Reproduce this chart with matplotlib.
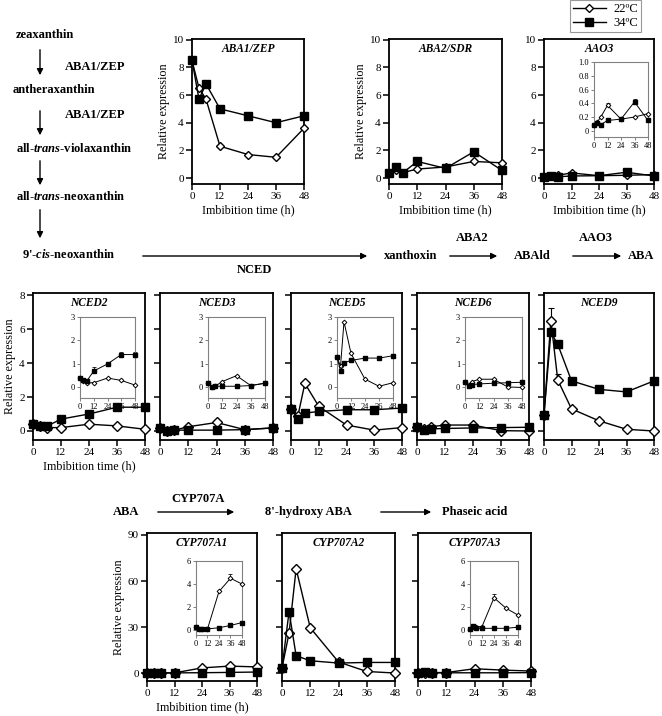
import matplotlib
matplotlib.use("Agg")
import matplotlib.pyplot as plt
from matplotlib.lines import Line2D
from matplotlib.patches import FancyArrowPatch

plt.rcParams['font.family'] = ['Liberation Serif', 'DejaVu Serif']
plt.rcParams['mathtext.fontset'] = 'custom'
plt.rcParams['mathtext.rm'] = 'Liberation Serif:bold'
plt.rcParams['mathtext.it'] = 'Liberation Serif:italic:bold'

# imbibition time points (h)
t = [0, 3, 6, 12, 24, 36, 48]

aba1_22 = [8.5, 6.5, 5.7, 2.3, 1.7, 1.5, 3.6]
aba1_34 = [8.5, 5.7, 6.8, 5.0, 4.5, 4.0, 4.5]
aba2_22 = [0.35, 0.55, 0.4, 0.65, 0.8, 1.2, 1.1]
aba2_34 = [0.35, 0.8, 0.4, 1.2, 0.7, 1.9, 0.55]
aao3_22 = [0.08, 0.13, 0.2, 0.37, 0.17, 0.2, 0.25]
aao3_34 = [0.08, 0.12, 0.09, 0.15, 0.17, 0.42, 0.15]

nced2_22 = [0.4, 0.28, 0.2, 0.2, 0.4, 0.3, 0.1]
nced2_34 = [0.4, 0.3, 0.28, 0.7, 1.0, 1.4, 1.4]
nced3_22 = [0.2, 0.02, 0.05, 0.25, 0.5, 0.08, 0.18]
nced3_34 = [0.2, 0.02, 0.05, 0.05, 0.05, 0.08, 0.18]
nced5_22 = [1.3, 0.9, 2.8, 1.45, 0.35, 0.05, 0.2]
nced5_34 = [1.3, 0.7, 1.05, 1.15, 1.25, 1.25, 1.35]
nced6_22 = [0.25, 0.1, 0.25, 0.35, 0.35, 0.02, 0.0]
nced6_34 = [0.25, 0.05, 0.12, 0.15, 0.18, 0.2, 0.22]
nced9_22 = [0.95, 6.5, 3.0, 1.3, 0.6, 0.1, 0.0]
nced9_34 = [0.95, 5.8, 5.1, 2.95, 2.45, 2.3, 2.95]

cyp1_22 = [0.3, 0.05, 0.05, 0.1, 3.35, 4.5, 4.0]
cyp1_34 = [0.3, 0.05, 0.05, 0.1, 0.2, 0.4, 0.65]
cyp2_22 = [3.3, 26, 68, 29.5, 7.2, 1.0, 0.0]
cyp2_34 = [3.3, 40, 11.3, 8.0, 6.5, 6.9, 6.9]
cyp3_22 = [0.05, 0.3, 0.3, 0.3, 2.8, 1.9, 1.3]
cyp3_34 = [0.05, 0.35, 0.15, 0.15, 0.15, 0.15, 0.25]

# upward error bars (only a few are visible)
aao3_22_err = [0, 0, 0, 0.04, 0, 0, 0]
aao3_34_err = [0, 0, 0, 0, 0, 0.04, 0]
nced2_34_err = [0, 0, 0, 0.15, 0, 0.12, 0.1]
nced5_34_err = [0, 0, 0, 0.08, 0.08, 0.06, 0]
nced9_22_err = [0, 0.75, 0.35, 0, 0, 0, 0]
nced9_34_err = [0, 0.2, 0, 0, 0, 0, 0]
cyp1_22_err = [0, 0, 0, 0, 0, 0.35, 0]
cyp3_22_err = [0, 0, 0, 0, 0.3, 0, 0]

W, H = 662, 716
fig = plt.figure(figsize=(W / 100, H / 100), dpi=100)


def fx(x):
    return x / W


def fy(y):
    return 1 - y / H


def add_ax(l, t_, r, b):
    return fig.add_axes([fx(l), fy(b), (r - l) / W, (b - t_) / H])


def draw(ax, y22, y34, e22, e34, ms_d, ms_s, lw, cap):
    z = [0] * len(t)
    if e22 is not None:
        ax.errorbar(t, y22, yerr=[z, e22], fmt='none', ecolor='k', elinewidth=lw * 0.8,
                    capsize=cap, capthick=lw * 0.8, clip_on=False, zorder=2)
    if e34 is not None:
        ax.errorbar(t, y34, yerr=[z, e34], fmt='none', ecolor='k', elinewidth=lw * 0.8,
                    capsize=cap, capthick=lw * 0.8, clip_on=False, zorder=2)
    ax.plot(t, y22, '-', color='k', lw=lw, marker='D', ms=ms_d, mfc='white', mec='k',
            mew=lw, clip_on=False, zorder=3)
    ax.plot(t, y34, '-', color='k', lw=lw, marker='s', ms=ms_s, mfc='k', mec='k',
            clip_on=False, zorder=4)


def panel(box, y22, y34, ylim, yticks, title, e22=None, e34=None, ylabels=True,
          ylab=False, xlab=False, ms_d=4.8, ms_s=5.8):
    ax = add_ax(*box)
    draw(ax, y22, y34, e22, e34, ms_d, ms_s, 1.0, 2)
    ax.set_xlim(0, 48)
    ax.set_ylim(*ylim)
    ax.set_xticks([0, 12, 24, 36, 48])
    ax.set_yticks(yticks)
    if not ylabels:
        ax.set_yticklabels([])
    for s in ax.spines.values():
        s.set_linewidth(1.3)
    ax.tick_params(direction='out', length=4, width=1.1, labelsize=8, pad=2)
    ax.text(0.5, 0.97, title, transform=ax.transAxes, ha='center', va='top',
            fontsize=8.3, fontweight='bold', fontstyle='italic')
    if ylab:
        ax.set_ylabel('Relative expression', fontsize=8.7, labelpad=2)
    if xlab:
        ax.set_xlabel('Imbibition time (h)', fontsize=8.7, labelpad=2)
    return ax


def inset(box, y22, y34, ylim, yticks, yfmt, e22=None, e34=None):
    ax = add_ax(*box)
    draw(ax, y22, y34, e22, e34, 2.4, 3.0, 0.7, 1.2)
    ax.set_xlim(0, 48)
    ax.set_ylim(*ylim)
    ax.set_xticks([0, 12, 24, 36, 48])
    ax.set_yticks(yticks)
    ax.set_yticklabels(yfmt)
    for s in ax.spines.values():
        s.set_linewidth(0.8)
        s.set_color('#808080')
    ax.tick_params(direction='out', length=2, width=0.7, colors='#808080',
                   labelcolor='k', labelsize=6, pad=1.5)
    ax.set_facecolor('white')
    return ax


# ---- top row: ABA biosynthesis genes
panel((192, 39, 304, 184), aba1_22, aba1_34, (-0.43, 10.05), [0, 2, 4, 6, 8, 10],
      'ABA1/ZEP', ylab=True, xlab=True, ms_d=4.3, ms_s=5.2)
panel((389, 39, 502, 184), aba2_22, aba2_34, (-0.43, 10.05), [0, 2, 4, 6, 8, 10],
      'ABA2/SDR', ylab=True, xlab=True, ms_d=4.3, ms_s=5.2)
panel((544, 39, 654, 184), aao3_22, aao3_34, (-0.43, 10.05), [0, 2, 4, 6, 8, 10],
      'AAO3', xlab=True, ms_d=4.3, ms_s=5.2)
inset((594, 62, 648, 137), aao3_22, aao3_34, (-0.09, 1.0), [0, 0.2, 0.4, 0.6, 0.8, 1.0],
      ['0', '0.2', '0.4', '0.6', '0.8', '1.0'], aao3_22_err, aao3_34_err)

# ---- middle row: NCED genes
ny = (-0.53, 8.12)
panel((33, 293, 145, 440), nced2_22, nced2_34, ny, [0, 2, 4, 6, 8], 'NCED2',
      ylab=True, xlab=True)
panel((160, 293, 273, 440), nced3_22, nced3_34, ny, [0, 2, 4, 6, 8], 'NCED3', ylabels=False)
panel((291, 293, 402, 440), nced5_22, nced5_34, ny, [0, 2, 4, 6, 8], 'NCED5', ylabels=False)
panel((417, 293, 529, 440), nced6_22, nced6_34, ny, [0, 2, 4, 6, 8], 'NCED6', ylabels=False)
panel((544, 293, 654, 440), nced9_22, nced9_34, ny, [0, 2, 4, 6, 8], 'NCED9', ylabels=False,
      e22=nced9_22_err, e34=nced9_34_err)
iy = (-0.45, 3.0)
inset((80, 317, 135, 398), nced2_22, nced2_34, iy, [0, 1, 2, 3], ['0', '1', '2', '3'],
      e34=nced2_34_err)
inset((208, 317, 265, 398), nced3_22, nced3_34, iy, [0, 1, 2, 3], ['0', '1', '2', '3'])
inset((337, 317, 393, 398), nced5_22, nced5_34, iy, [0, 1, 2, 3], ['0', '1', '2', '3'],
      e34=nced5_34_err)
inset((465, 317, 522, 398), nced6_22, nced6_34, iy, [0, 1, 2, 3], ['0', '1', '2', '3'])

# ---- bottom row: CYP707A genes
cy = (-5.2, 91.3)
panel((147, 533, 257, 681), cyp1_22, cyp1_34, cy, [0, 30, 60, 90], 'CYP707A1',
      ylab=True, xlab=True)
panel((282, 533, 395, 681), cyp2_22, cyp2_34, cy, [0, 30, 60, 90], 'CYP707A2', ylabels=False)
panel((418, 533, 531, 681), cyp3_22, cyp3_34, cy, [0, 30, 60, 90], 'CYP707A3', ylabels=False)
inset((196, 561, 242, 635), cyp1_22, cyp1_34, (-0.43, 6), [0, 2, 4, 6], ['0', '2', '4', '6'],
      e22=cyp1_22_err)
inset((470, 561, 518, 635), cyp3_22, cyp3_34, (-0.43, 6), [0, 2, 4, 6], ['0', '2', '4', '6'],
      e22=cyp3_22_err)

# ---- legend
handles = [Line2D([], [], color='k', lw=1, marker='D', ms=4.3, mfc='white', mec='k'),
           Line2D([], [], color='k', lw=1, marker='s', ms=5.2, mfc='k', mec='k')]
leg = fig.legend(handles, ['22\u00baC', '34\u00baC'], loc='upper left',
                 bbox_to_anchor=(fx(570), fy(0)), fontsize=9, frameon=True,
                 fancybox=False, edgecolor='#808080', handlelength=2.6,
                 borderpad=0.25, labelspacing=0.15, handletextpad=0.6, borderaxespad=0)
leg.get_frame().set_linewidth(0.8)


# ---- pathway diagram
def label(x, y, s, ha='left'):
    fig.text(fx(x), fy(y), s, ha=ha, va='center', fontsize=9, fontweight='bold')


def arrow(x0, y0, x1, y1):
    fig.add_artist(FancyArrowPatch((fx(x0), fy(y0)), (fx(x1), fy(y1)),
                                   transform=fig.transFigure, arrowstyle='-|>',
                                   mutation_scale=9, lw=1, color='k'))


label(16, 35, 'zeaxanthin')
arrow(40, 47, 40, 78)
label(65, 67, 'ABA1/ZEP')
label(13, 90, 'antheraxanthin')
arrow(40, 108, 40, 138)
label(65, 115, 'ABA1/ZEP')
label(16, 149, r'all-$\mathit{trans}$-violaxanthin')
arrow(40, 158, 40, 188)
label(16, 196, r'all-$\mathit{trans}$-neoxanthin')
arrow(40, 207, 40, 241)
label(22, 254, r"9'-$\mathit{cis}$-neoxanthin")
arrow(140, 256, 370, 256)
label(254, 270, 'NCED', ha='center')
label(384, 256, 'xanthoxin')
arrow(447, 256, 500, 256)
label(472, 238, 'ABA2', ha='center')
label(514, 256, 'ABAld')
arrow(570, 256, 624, 256)
label(596, 238, 'AAO3', ha='center')
label(628, 256, 'ABA')

label(113, 512, 'ABA')
arrow(155, 512, 237, 512)
label(198, 499, 'CYP707A', ha='center')
label(265, 512, "8'-hydroxy ABA")
arrow(378, 512, 434, 512)
label(442, 512, 'Phaseic acid')

fig.savefig('out.png', dpi=100)
